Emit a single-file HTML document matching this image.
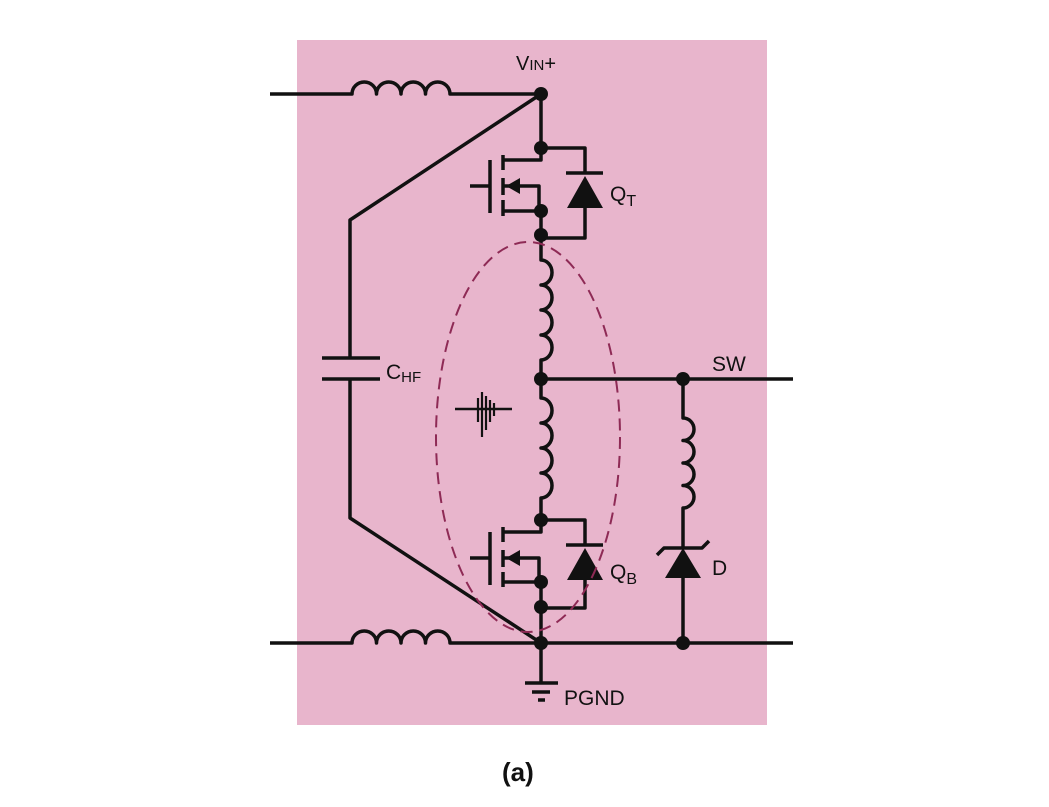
<!DOCTYPE html>
<html><head><style>
html,body{margin:0;padding:0;background:#fff;}
svg{display:block;}
text{font-family:"Liberation Sans Narrow","Liberation Sans",sans-serif;fill:#111;}
</style></head><body>
<svg width="1049" height="807" viewBox="0 0 1049 807">
<rect x="297" y="40" width="470" height="685" fill="#e8b5cc"/>
<g stroke="#111" stroke-width="3.5" fill="none" stroke-linejoin="round">
<path d="M270 94 H352 a12.25 12 0 0 1 24.5 0 a12.25 12 0 0 1 24.5 0 a12.25 12 0 0 1 24.5 0 a12.25 12 0 0 1 24.5 0 H541"/>
<path d="M270 643 H352 a12.25 12 0 0 1 24.5 0 a12.25 12 0 0 1 24.5 0 a12.25 12 0 0 1 24.5 0 a12.25 12 0 0 1 24.5 0 H793"/>
<path d="M541 94 L350 220 V358"/>
<path d="M350 379 V518 L541 643"/>
<path d="M322 358 H380 M322 379 H380"/>
<path d="M541 94 V148"/>
<!-- QT -->
<path d="M541 148 H585 V173 M566 173 H603 M585 208 V238 H541"/>
<path d="M541 148 V160 H503 M503 186 H539 V211 M503 211 H541 M541 211 V235"/>
<path d="M503 155 V170 M503 178 V195 M503 200 V216 M490 160 V213 M470 186 H490"/>
<path d="M541 235 V260 a11 12.5 0 0 1 0 25 a11 12.5 0 0 1 0 25 a11 12.5 0 0 1 0 25 a11 12.5 0 0 1 0 25 V379"/>
<path d="M541 379 V398 a11 12.5 0 0 1 0 25 a11 12.5 0 0 1 0 25 a11 12.5 0 0 1 0 25 a11 12.5 0 0 1 0 25 V520"/>
<path d="M541 379 H793"/>
<!-- QB -->
<path d="M541 520 H585 V545 M566 545 H603 M585 580 V608 H541"/>
<path d="M541 520 V532 H503 M503 558 H539 V582 M503 582 H541 M541 582 V643"/>
<path d="M503 527 V542 M503 550 V567 M503 572 V587 M490 532 V585 M470 558 H490"/>
<path d="M541 643 V683 M525 683 H558 M532 692 H550 M538 700 H545"/>
<path d="M683 379 V418 a11 11.25 0 0 1 0 22.5 a11 11.25 0 0 1 0 22.5 a11 11.25 0 0 1 0 22.5 a11 11.25 0 0 1 0 22.5 V548"/>
<path d="M657 555 L664 548 H702 L709 541 M683 578 V643"/>
<path d="M455 409 H512" stroke-width="2.5"/>
<path d="M478 398 V422 M482 392 V437 M486 396 V430 M490 400 V422 M494 403 V416" stroke-width="2.2"/>
</g>
<g fill="#111">
<polygon points="585,176 567,208 603,208"/>
<polygon points="585,548 567,580 603,580"/>
<polygon points="683,548 665,578 701,578"/>
<polygon points="506,186 520,178 520,194"/>
<polygon points="506,558 520,550 520,566"/>
</g>
<g fill="#111">
<circle cx="541" cy="94" r="7"/>
<circle cx="541" cy="148" r="7"/>
<circle cx="541" cy="211" r="7"/>
<circle cx="541" cy="235" r="7"/>
<circle cx="541" cy="379" r="7"/>
<circle cx="683" cy="379" r="7"/>
<circle cx="541" cy="520" r="7"/>
<circle cx="541" cy="582" r="7"/>
<circle cx="541" cy="607" r="7"/>
<circle cx="541" cy="643" r="7"/>
<circle cx="683" cy="643" r="7"/>
</g>
<ellipse cx="528" cy="437" rx="92" ry="195" fill="none" stroke="#8e2a55" stroke-width="2" stroke-dasharray="12,7"/>
<text x="516" y="70" font-size="20">V<tspan font-size="15">IN</tspan>+</text>
<text x="610" y="201" font-size="21">Q<tspan font-size="16" dy="5">T</tspan></text>
<text x="386" y="379" font-size="21">C<tspan font-size="15" dy="3">HF</tspan></text>
<text x="712" y="371" font-size="21">SW</text>
<text x="610" y="579" font-size="21">Q<tspan font-size="16" dy="5">B</tspan></text>
<text x="712" y="575" font-size="21">D</text>
<text x="564" y="705" font-size="21">PGND</text>
<text x="502" y="781" font-size="26" font-weight="bold">(a)</text>
</svg>
</body></html>
